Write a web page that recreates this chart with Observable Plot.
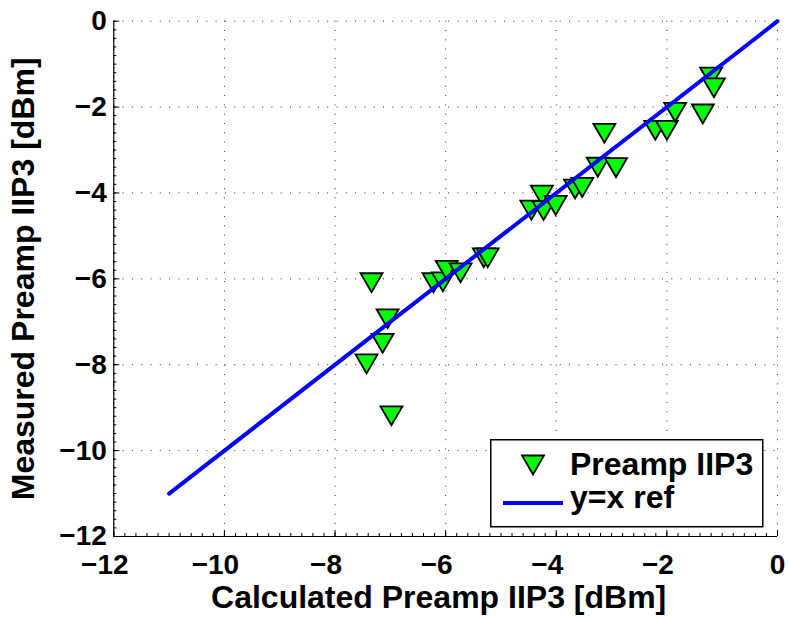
<!DOCTYPE html>
<html>
<head>
<meta charset="utf-8">
<script src="https://cdn.jsdelivr.net/npm/d3@7"></script>
<script src="https://cdn.jsdelivr.net/npm/@observablehq/plot@0.6"></script>
<style>
  html, body { margin: 0; padding: 0; background: #fff; }
  #chart { position: relative; width: 789px; height: 618px; }
  #legend { position: absolute; left: 490px; top: 439px; }
</style>
</head>
<body>
<div id="chart"></div>
<script>
// Calculated vs. measured preamp IIP3 (dBm), one entry per device
const calcIIP3 = [-7.34, -7.05, -7.14, -7.43, -6.98, -6.22, -6.05, -5.98, -5.73, -5.31,
                  -5.24, -4.45, -4.26, -4.23, -4.01, -3.66, -3.53, -3.25, -2.92, -3.13,
                  -2.21, -2.00, -1.85, -1.35, -1.20, -1.15];
const measIIP3 = [-6.09, -6.93, -7.50, -7.98, -9.19, -6.09, -6.07, -5.80, -5.86, -5.51,
                  -5.51, -4.40, -4.05, -4.41, -4.29, -3.91, -3.87, -3.40, -3.41, -2.61,
                  -2.54, -2.54, -2.12, -2.16, -1.30, -1.55];
// y = x reference line end points
const refLine = [-11, 0];

const xDomain = [-12, 0];
const yDomain = [-12, 0];
const xTicks = [-12, -10, -8, -6, -4, -2, 0];
const yTicks = [-12, -10, -8, -6, -4, -2, 0];
const minorStep = 0.2;

const seriesName = "Preamp IIP3";
const refName = "y=x ref";
const xLabel = "Calculated Preamp IIP3 [dBm]";
const yLabel = "Measured Preamp IIP3 [dBm]";

const points = calcIIP3.map((c, i) => ({calc: c, meas: measIIP3[i]}));
const refPoints = refLine.map(v => ({v}));
const xMinor = d3.range(xDomain[0], xDomain[1] + 1e-9, minorStep);
const yMinor = d3.range(yDomain[0], yDomain[1] + 1e-9, minorStep);
const fmt = d3.format("d");

const W = 789, H = 618;
const mTop = 20.7, mRight = 12, mBottom = 82, mLeft = 113.3;
const frameW = W - mLeft - mRight, frameH = H - mTop - mBottom;

// downward-pointing triangle, centred on its bounding box
const triangleDown = {
  draw(ctx, size) {
    const r = Math.sqrt(size / Math.PI);
    const h = 0.86 * r;
    ctx.moveTo(-r, -h);
    ctx.lineTo(r, -h);
    ctx.lineTo(0, h);
    ctx.closePath();
  }
};

const font = "'Liberation Sans', Arial, Helvetica, sans-serif";
const grid = {stroke: "#000", strokeOpacity: 0.85, strokeWidth: 1, strokeDasharray: "1,8.3"};
const tickText = {fontSize: 28, fontWeight: "bold", fill: "#000"};
const xTickText = {x: d => d, text: fmt, frameAnchor: "bottom", lineAnchor: "middle",
                   textAnchor: "middle", dy: 29, ...tickText};

const chart = Plot.plot({
  width: W, height: H,
  marginTop: mTop, marginRight: mRight, marginBottom: mBottom, marginLeft: mLeft,
  style: {fontFamily: font, background: "#fff", color: "#000", overflow: "visible"},
  x: {domain: xDomain, label: null, axis: null},
  y: {domain: yDomain, label: null, axis: null},
  marks: [
    Plot.gridX(xTicks, grid),
    Plot.gridY(yTicks, grid),
    // inward minor and major ticks on the bottom and left axes
    Plot.ruleX(xMinor, {x: d => d, stroke: "#000", strokeWidth: 1, insetTop: frameH - 3}),
    Plot.ruleY(yMinor, {y: d => d, stroke: "#000", strokeWidth: 1, insetRight: frameW - 3}),
    Plot.ruleX(xTicks, {x: d => d, stroke: "#000", strokeWidth: 1, insetTop: frameH - 6}),
    Plot.ruleY(yTicks, {y: d => d, stroke: "#000", strokeWidth: 1, insetRight: frameW - 6}),
    Plot.ruleY([yDomain[0]], {stroke: "#000", strokeWidth: 1.2}),
    Plot.ruleX([xDomain[0]], {stroke: "#000", strokeWidth: 1.2}),
    // tick labels: the digits sit on the tick, a minus sign hangs to the left
    Plot.text(xTicks.filter(d => d < 0), {...xTickText, dx: -9}),
    Plot.text(xTicks.filter(d => d >= 0), xTickText),
    Plot.text(yTicks, {y: d => d, text: fmt, frameAnchor: "left", lineAnchor: "middle",
                       textAnchor: "end", dx: -7, ...tickText}),
    Plot.text([xLabel], {text: d => d, frameAnchor: "bottom", textAnchor: "middle", lineAnchor: "middle",
                         dx: -7, dy: 61, fontSize: 32, fontWeight: "bold"}),
    Plot.text([yLabel], {text: d => d, frameAnchor: "left", textAnchor: "middle", lineAnchor: "middle",
                         dx: -90, rotate: -90, fontSize: 32, fontWeight: "bold"}),
    Plot.dot(points, {
      x: "calc", y: "meas", symbol: triangleDown, r: 11,
      fill: "#00ff00", stroke: "#000", strokeWidth: 1.8, strokeLinejoin: "miter"
    }),
    Plot.line(refPoints, {x: "v", y: "v", stroke: "#0000ff", strokeWidth: 4})
  ]
});

const root = document.getElementById("chart");
root.appendChild(chart);

// legend box drawn over the lower-right of the plot area
const legend = d3.create("svg")
  .attr("id", "legend")
  .attr("width", 274).attr("height", 89)
  .style("font-family", font).style("font-weight", "bold");
legend.append("rect")
  .attr("x", 0.75).attr("y", 0.75).attr("width", 272).attr("height", 87)
  .attr("fill", "#fff").attr("stroke", "#000").attr("stroke-width", 1.5);
legend.append("path")
  .attr("d", "M-11,-9.5L11,-9.5L0,9.5Z")
  .attr("transform", "translate(43,26)")
  .attr("fill", "#00ff00").attr("stroke", "#000").attr("stroke-width", 1.8);
legend.append("text")
  .attr("x", 80).attr("y", 36).attr("font-size", 32).text(seriesName);
legend.append("line")
  .attr("x1", 13).attr("x2", 73).attr("y1", 64).attr("y2", 64)
  .attr("stroke", "#0000ff").attr("stroke-width", 4);
legend.append("text")
  .attr("x", 80).attr("y", 69).attr("font-size", 32).text(refName);
root.appendChild(legend.node());
</script>
</body>
</html>
